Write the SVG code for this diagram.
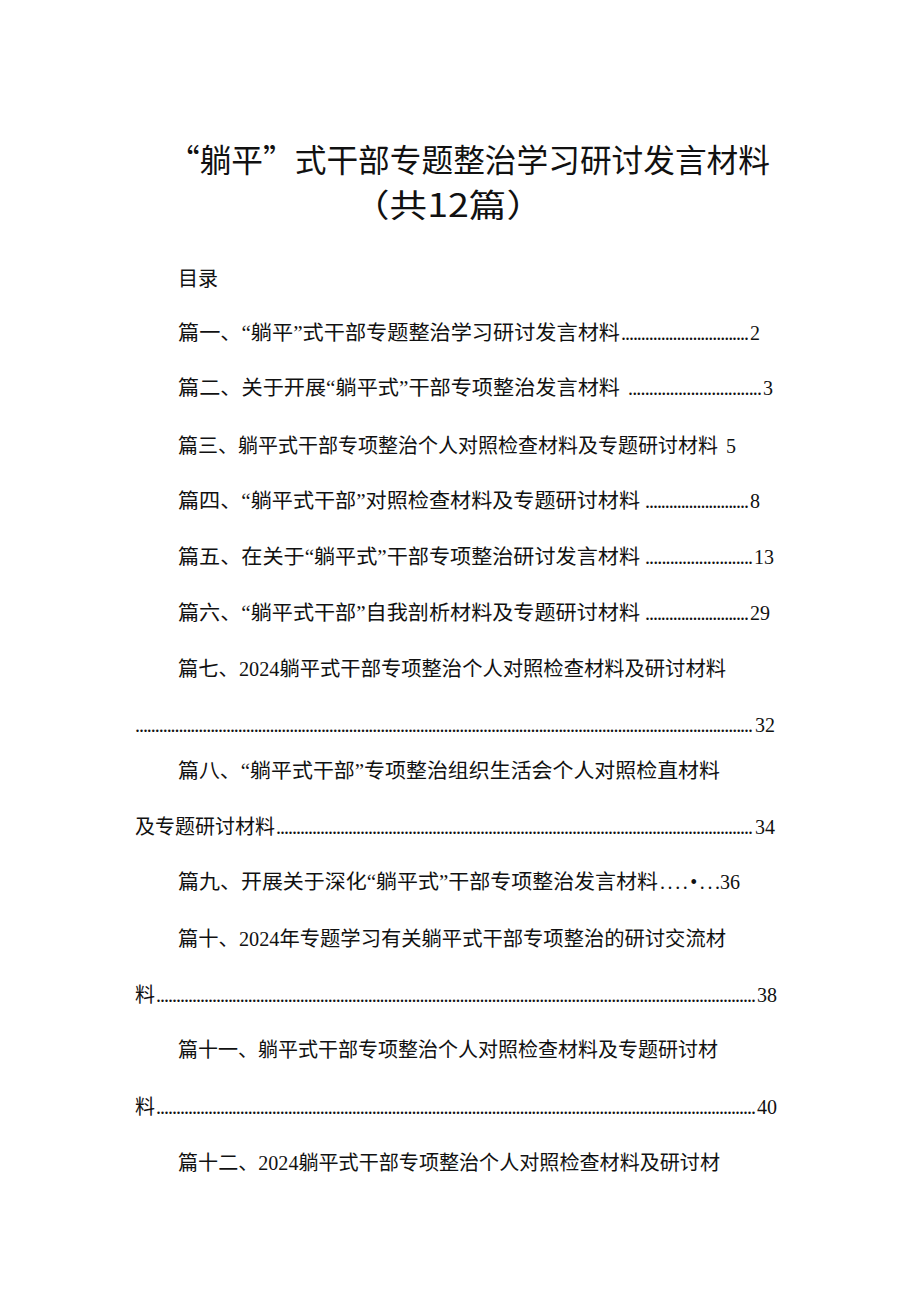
<svg xmlns="http://www.w3.org/2000/svg" width="920" height="1301" viewBox="0 0 920 1301">
<style>
text{fill:#111;font-family:"Liberation Serif","Noto Sans CJK SC",serif}
.t{font-size:32px;font-family:"Noto Sans CJK SC","Liberation Sans",sans-serif}
.l{font-size:20px}
.d{font-size:20px}
</style>
<rect width="920" height="1301" fill="#fff"/>
<text class="t" x="168" y="172" textLength="602" lengthAdjust="spacingAndGlyphs">“躺平”式干部专题整治学习研讨发言材料</text>
<text class="t" x="352" y="217" textLength="192" lengthAdjust="spacingAndGlyphs">（共12篇）</text>
<text class="l" x="178" y="286" font-size="18">目录</text>
<g class="l">
<text x="178" y="340" textLength="442" lengthAdjust="spacingAndGlyphs">篇一、“躺平”式干部专题整治学习研讨发言材料</text>
<text x="621" y="340" textLength="128" lengthAdjust="spacing">................................</text><text x="750" y="340">2</text>
<text x="178" y="395" textLength="442" lengthAdjust="spacingAndGlyphs">篇二、关于开展“躺平式”干部专项整治发言材料</text>
<text x="628" y="395" textLength="134" lengthAdjust="spacing">................................</text><text x="763" y="395">3</text>
<text x="178" y="453" textLength="540" lengthAdjust="spacingAndGlyphs">篇三、躺平式干部专项整治个人对照检查材料及专题研讨材料</text><text x="726" y="453">5</text>
<text x="178" y="508" textLength="462" lengthAdjust="spacingAndGlyphs">篇四、“躺平式干部”对照检查材料及专题研讨材料</text>
<text x="645" y="508" textLength="104" lengthAdjust="spacing">..........................</text><text x="750" y="508">8</text>
<text x="178" y="564" textLength="462" lengthAdjust="spacingAndGlyphs">篇五、在关于“躺平式”干部专项整治研讨发言材料</text>
<text x="645" y="564" textLength="108" lengthAdjust="spacing">..........................</text><text x="754" y="564">13</text>
<text x="178" y="620" textLength="462" lengthAdjust="spacingAndGlyphs">篇六、“躺平式干部”自我剖析材料及专题研讨材料</text>
<text x="645" y="620" textLength="104" lengthAdjust="spacing">..........................</text><text x="750" y="620">29</text>
<text x="178" y="676" textLength="548" lengthAdjust="spacingAndGlyphs">篇七、2024躺平式干部专项整治个人对照检查材料及研讨材料</text>
<text x="135" y="732" textLength="618" lengthAdjust="spacing">............................................................................................................................................................</text><text x="755" y="732">32</text>
<text x="178" y="778" textLength="542" lengthAdjust="spacingAndGlyphs">篇八、“躺平式干部”专项整治组织生活会个人对照检直材料</text>
<text x="135" y="834" textLength="140" lengthAdjust="spacingAndGlyphs">及专题研讨材料</text>
<text x="276" y="834" textLength="477" lengthAdjust="spacing">.......................................................................................................................</text><text x="755" y="834">34</text>
<text x="178" y="889" textLength="480" lengthAdjust="spacingAndGlyphs">篇九、开展关于深化“躺平式”干部专项整治发言材料</text>
<text x="660" y="889" textLength="60" lengthAdjust="spacing">....•...</text><text x="720" y="889">36</text>
<text x="178" y="946" textLength="548" lengthAdjust="spacingAndGlyphs">篇十、2024年专题学习有关躺平式干部专项整治的研讨交流材</text>
<text x="135" y="1002" font-size="20">料</text>
<text x="156" y="1002" textLength="600" lengthAdjust="spacing">......................................................................................................................................................</text><text x="757" y="1002">38</text>
<text x="178" y="1057" textLength="540" lengthAdjust="spacingAndGlyphs">篇十一、躺平式干部专项整治个人对照检查材料及专题研讨材</text>
<text x="135" y="1114" font-size="20">料</text>
<text x="156" y="1114" textLength="600" lengthAdjust="spacing">......................................................................................................................................................</text><text x="757" y="1114">40</text>
<text x="178" y="1170" textLength="542" lengthAdjust="spacingAndGlyphs">篇十二、2024躺平式干部专项整治个人对照检查材料及研讨材</text>
</g>
</svg>
